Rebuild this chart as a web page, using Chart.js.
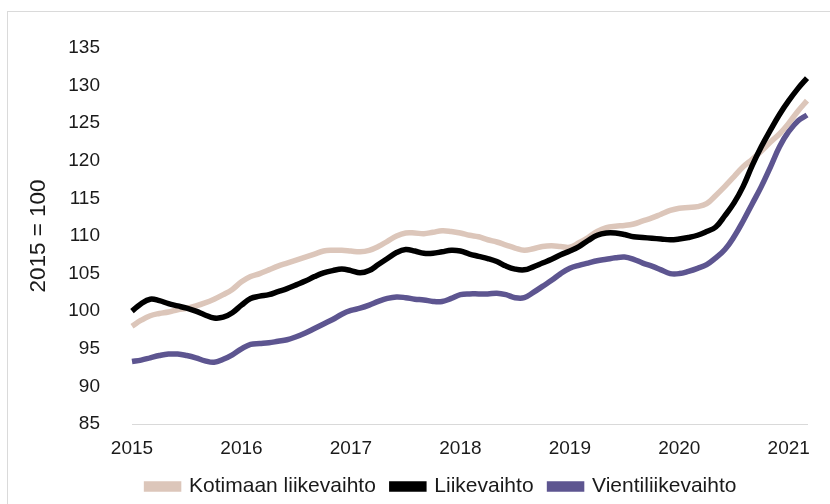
<!DOCTYPE html>
<html lang="fi">
<head>
  <meta charset="UTF-8">
  <title>Liikevaihto 2015 = 100</title>
  <script src="https://cdn.jsdelivr.net/npm/chart.js"></script>
  <style>
    html, body { margin: 0; padding: 0; background: #fff; }
    #wrap { position: relative; width: 830px; height: 504px; }
    #frame {
      position: absolute; left: 7px; top: 11px; right: -2px; bottom: -2px;
      border-left: 1px solid #dadada; border-top: 1px solid #dadada;
      pointer-events: none;
    }
  </style>
</head>
<body>
<div id="wrap">
  <canvas id="chart" width="830" height="504"></canvas>
  <div id="frame"></div>
</div>
<script>
// monthly index, 2015 = 100, Jan 2015 .. Mar 2021
const years = ['2015', '2016', '2017', '2018', '2019', '2020', '2021'];

const kotimaan = [
  98.0, 98.8, 99.4, 99.7, 99.9, 100.2, 100.4, 100.7, 101.1, 101.6, 102.2, 102.9,
  103.9, 104.6, 105.0, 105.5, 106.0, 106.4, 106.8, 107.2, 107.6, 108.0, 108.1, 108.1,
  108.0, 107.9, 108.1, 108.6, 109.3, 110.0, 110.4, 110.4, 110.3, 110.5, 110.7, 110.6,
  110.4, 110.1, 109.9, 109.5, 109.2, 108.8, 108.4, 108.1, 108.3, 108.6, 108.7, 108.6,
  108.5, 109.1, 109.8, 110.6, 111.1, 111.3, 111.4, 111.6, 112.0, 112.4, 112.9, 113.4,
  113.7, 113.8, 113.9, 114.3, 115.4, 116.6, 117.9, 119.2, 120.2, 121.3, 122.5, 123.6,
  125.0, 126.6, 128.0
];

const liikevaihto = [
  100.0, 101.0, 101.6, 101.4, 101.0, 100.7, 100.4, 100.0, 99.5, 99.1, 99.2, 99.8,
  100.8, 101.7, 102.0, 102.2, 102.6, 103.0, 103.5, 104.0, 104.6, 105.1, 105.4, 105.6,
  105.4, 105.1, 105.4, 106.2, 107.0, 107.8, 108.2, 108.0, 107.7, 107.7, 107.9, 108.1,
  108.0, 107.6, 107.3, 107.0, 106.6, 106.0, 105.6, 105.5, 105.9, 106.4, 106.9, 107.5,
  108.0, 108.6, 109.4, 110.1, 110.4, 110.4, 110.2, 109.9, 109.8, 109.7, 109.6, 109.5,
  109.6, 109.8, 110.1, 110.6, 111.2, 112.7, 114.4, 116.6, 119.4, 121.9, 124.1, 126.2,
  128.0, 129.6, 131.0
];

const vienti = [
  93.3, 93.5, 93.8, 94.1, 94.3, 94.3, 94.1, 93.8, 93.4, 93.2, 93.6, 94.2,
  95.0, 95.6, 95.7, 95.8, 96.0, 96.2, 96.6, 97.1, 97.7, 98.3, 98.9, 99.6,
  100.1, 100.4, 100.8, 101.3, 101.7, 101.9, 101.8, 101.6, 101.5, 101.3, 101.3, 101.7,
  102.2, 102.3, 102.3, 102.3, 102.4, 102.2, 101.8, 101.8, 102.5, 103.3, 104.1, 105.0,
  105.7, 106.1, 106.4, 106.7, 106.9, 107.1, 107.2, 106.9, 106.4, 106.0, 105.5, 105.0,
  105.0, 105.3, 105.7, 106.2, 107.1, 108.2, 109.9, 112.0, 114.3, 116.6, 119.2, 121.9,
  123.9, 125.3, 126.1
];

const seriesNames = ['Kotimaan liikevaihto', 'Liikevaihto', 'Vientiliikevaihto'];

// month labels, e.g. 2015-01
const months = [];
for (let i = 0; i < kotimaan.length; i++) {
  const y = 2015 + Math.floor(i / 12);
  const m = (i % 12) + 1;
  months.push(y + '-' + (m < 10 ? '0' + m : m));
}

const FONT = "'Liberation Sans', Arial, sans-serif";

function line(label, data, color, order) {
  return {
    label: label,
    data: data,
    borderColor: color,
    backgroundColor: color,
    borderWidth: 5.5,
    pointRadius: 0,
    tension: 0.4,
    order: order
  };
}

new Chart(document.getElementById('chart'), {
  type: 'line',
  data: {
    labels: months,
    datasets: [
      line(seriesNames[0], kotimaan, '#dcc6ba', 1),
      line(seriesNames[1], liikevaihto, '#000000', 0),
      line(seriesNames[2], vienti, '#5d5590', 2)
    ]
  },
  options: {
    responsive: false,
    animation: false,
    layout: { padding: { left: 53, right: 0, top: 48, bottom: -3 } },
    plugins: {
      tooltip: { enabled: false },
      legend: {
        position: 'bottom',
        labels: {
          font: { family: FONT, size: 21 },
          color: '#1a1a1a',
          boxWidth: 32,
          boxHeight: 5,
          padding: 16,
          sort: (a, b) => a.datasetIndex - b.datasetIndex
        }
      }
    },
    scales: {
      x: {
        offset: false,
        grid: { display: false },
        border: { display: true, color: '#d9d9d9', width: 1 },
        ticks: {
          autoSkip: false,
          maxRotation: 0,
          padding: 5,
          color: '#1a1a1a',
          font: { family: FONT, size: 19 },
          callback: function (val, i) {
            return i % 12 === 0 ? years[i / 12] : null;
          }
        },
        afterFit: s => { s.height = 36; }
      },
      y: {
        min: 85,
        max: 135,
        grid: { display: false },
        border: { display: false },
        ticks: {
          stepSize: 5,
          padding: 24,
          color: '#1a1a1a',
          font: { family: FONT, size: 19 }
        },
        title: {
          display: true,
          text: '2015 = 100',
          color: '#1a1a1a',
          font: { family: FONT, size: 22.5 },
          padding: { top: -28, bottom: 0 }
        },
        afterFit: s => { s.width = 79; }
      },
      // empty right-hand axis, only keeps the plot clear of the right edge
      yRight: {
        position: 'right',
        grid: { display: false },
        border: { display: false },
        ticks: { display: false },
        afterFit: s => { s.width = 23; }
      }
    }
  }
});
</script>
</body>
</html>
